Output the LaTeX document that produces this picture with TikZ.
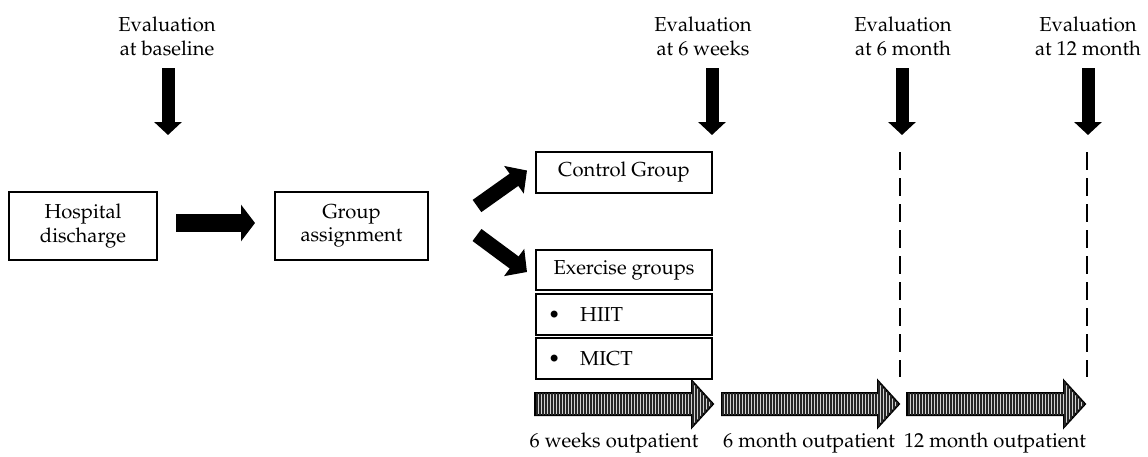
\documentclass[tikz,border=0pt]{standalone}
\usepackage[T1]{fontenc}
\usepackage{mathpazo}
\usetikzlibrary{arrows.meta,calc,patterns.meta}
\begin{document}
\begin{tikzpicture}[x=0.5pt,y=-0.5pt,
  every node/.style={font=\fontsize{10.1pt}{11.8pt}\selectfont},
  box/.style={draw, line width=1pt, inner sep=0pt, align=center},
  evaltext/.style={align=center, anchor=base, inner sep=0pt},
  downarrow/.style={line width=6.5pt, -{Triangle[length=6.5pt,width=13.5pt]}},
  fatarrow/.style={line width=9pt, -{Triangle[length=7pt,width=18pt]}},
  slantarrow/.style={line width=7.5pt, -{Triangle[length=8pt,width=16.5pt]}},
  timeline/.style={draw, line width=1pt, line join=miter, fill=gray!35,
    postaction={pattern={Lines[angle=90,distance=1.5pt,line width=0.6pt]}, pattern color=black!85}},
  evline/.style={line width=1pt, dash pattern=on 9pt off 4pt},
  period/.style={anchor=base, inner sep=0pt}
]
\useasboundingbox (0,0) rectangle (1148,456);

% evaluation time points (anchored on the baseline of the second line)
\node[evaltext] (ev0) at (167,55) {Evaluation\\at baseline};
\node[evaltext] (ev1) at (703,55) {Evaluation\\at 6 weeks};
\node[evaltext] (ev2) at (903,55) {Evaluation\\at 6 month};
\node[evaltext] (ev3) at (1088,55) {Evaluation\\at 12 month};

\coordinate (t0) at (168,68);  \coordinate (h0) at (168,135);
\coordinate (t1) at (712,68);  \coordinate (h1) at (712,135);
\coordinate (t2) at (902,68);  \coordinate (h2) at (902,135);
\coordinate (t3) at (1088,68); \coordinate (h3) at (1088,135);
\foreach \i in {0,...,3}{\draw[downarrow] (t\i) -- (h\i);}

% study flow
\node[box, minimum width=74pt, minimum height=34pt] (hosp) at (83,226) {Hospital\\discharge};
\node[box, minimum width=76.5pt, minimum height=34pt] (assign) at (351.5,226) {Group\\assignment};
\node[box, minimum width=88pt, minimum height=20.5pt] (ctrl) at (624,172.5) {Control Group};
\node[box, minimum width=88pt, minimum height=20pt] (exer) at (624,270) {Exercise groups};
\node[box, minimum width=88pt, minimum height=20.5pt, text width=76pt, align=left] (hiit) at (624,314.5) {\textbullet\hspace{10pt}HIIT};
\node[box, minimum width=88pt, minimum height=20.5pt, text width=76pt, align=left] (mict) at (624,358.5) {\textbullet\hspace{10pt}MICT};

\draw[fatarrow] ($(hosp.east)+(18,-3)$) -- ($(assign.west)+(-19,-3)$);
\draw[slantarrow] ($(assign.east)+(48,-20)$) -- ($(ctrl.west)+(-8,-2)$);
\draw[slantarrow] ($(assign.east)+(48,9)$) -- ($(exer.west)+(-8,2)$);

% follow-up markers
\coordinate (d2a) at (900,152); \coordinate (d2b) at (900,377);
\coordinate (d3a) at (1087,152); \coordinate (d3b) at (1087,377);
\draw[evline] (d2a) -- (d2b);
\draw[evline] (d3a) -- (d3b);

% outpatient periods
\draw[timeline] (535,393) -- (692,393) -- (692,381) -- (713,404) -- (692,427) -- (692,415) -- (535,415) -- cycle;
\draw[timeline] (722,393) -- (878,393) -- (878,381) -- (899,404) -- (878,427) -- (878,415) -- (722,415) -- cycle;
\draw[timeline] (907,393) -- (1064,393) -- (1064,381) -- (1085,404) -- (1064,427) -- (1064,415) -- (907,415) -- cycle;

\node[period] (p1) at (614,447) {6 weeks outpatient};
\node[period] (p2) at (809,447) {6 month outpatient};
\node[period] (p3) at (995,447) {12 month outpatient};
\end{tikzpicture}
\end{document}
